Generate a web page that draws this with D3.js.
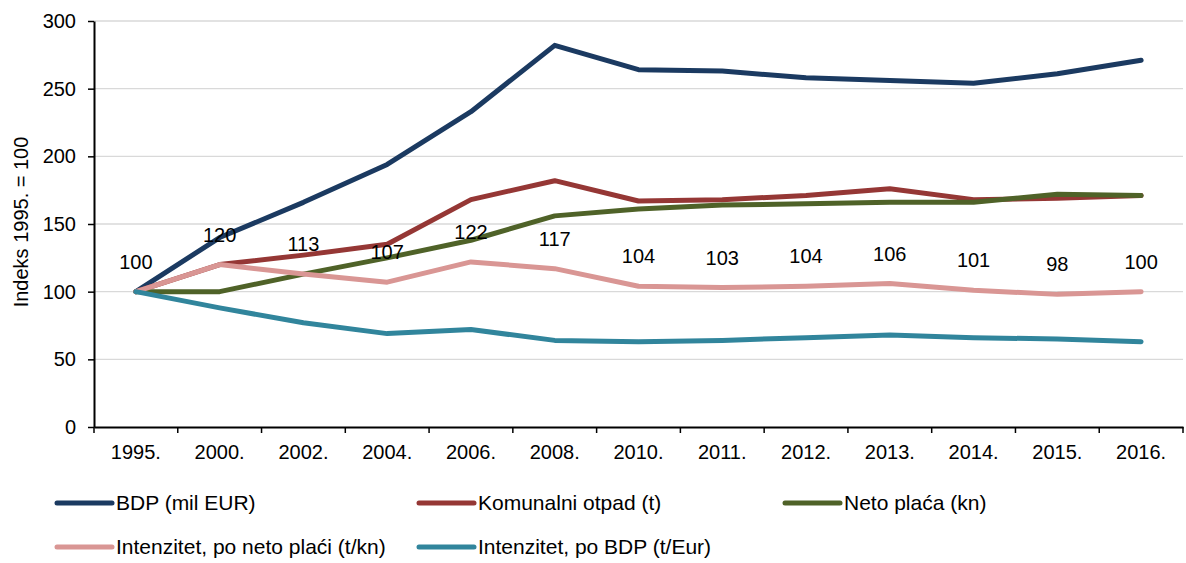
<!DOCTYPE html>
<html><head><meta charset="utf-8">
<script src="https://cdn.jsdelivr.net/npm/d3@7"></script>
<style>body{margin:0;background:#fff;} svg{display:block;font-family:"Liberation Sans",Arial,sans-serif;}</style>
</head><body>
<svg id="chart" width="1186" height="563"></svg>
<script>
const categories = ["1995.","2000.","2002.","2004.","2006.","2008.","2010.","2011.","2012.","2013.","2014.","2015.","2016."];
const bdp        = [100,140,166,194,233,282,264,263,258,256,254,261,271];
const otpad      = [100,120,127,135,168,182,167,168,171,176,168,169,171];
const netoPlaca  = [100,100,113,125,138,156,161,164,165,166,166,172,171];
const intPlaca   = [100,120,113,107,122,117,104,103,104,106,101,98,100];
const intBdp     = [100,88,77,69,72,64,63,64,66,68,66,65,63];
const yTicks     = [0,50,100,150,200,250,300];
const seriesNames = ["BDP (mil EUR)","Komunalni otpad (t)","Neto plaća (kn)","Intenzitet, po neto plaći (t/kn)","Intenzitet, po BDP (t/Eur)"];
const colors = ["#1B3A61","#953735","#4F6228","#D99694","#31859C"];
const seriesValues = [bdp, otpad, netoPlaca, intPlaca, intBdp];

const FONT = "Liberation Sans, Arial, sans-serif";
const svg = d3.select("#chart");
const x = d3.scaleBand().domain(categories).range([94,1183]);
const y = d3.scaleLinear().domain([0,300]).range([427,21]);

// gridlines
svg.append("g").selectAll("line").data(yTicks.filter(d=>d>0)).join("line")
  .attr("x1",94).attr("x2",1183).attr("y1",d=>y(d)).attr("y2",d=>y(d))
  .attr("stroke","#d9d9d9").attr("stroke-width",1.3);

// y axis
const yAxis = svg.append("g").attr("transform","translate(94,0)")
  .call(d3.axisLeft(y).tickValues(yTicks).tickSize(6).tickSizeOuter(0));
yAxis.select(".domain").attr("stroke","#000").attr("stroke-width",2);
yAxis.selectAll(".tick line").attr("stroke","#000").attr("stroke-width",1.5);
yAxis.selectAll(".tick text").attr("font-size",20).attr("fill","#000").attr("x",-18)
  .attr("font-family",FONT);

// x axis
const xAxis = svg.append("g").attr("transform","translate(0,427)")
  .call(d3.axisBottom(x).tickSize(0).tickSizeOuter(0));
xAxis.select(".domain").attr("stroke","#000").attr("stroke-width",2);
xAxis.selectAll(".tick text").attr("font-size",20).attr("fill","#000")
  .attr("y",32).attr("dy",0).attr("font-family",FONT);
// boundary ticks
const bounds = categories.map(c=>x(c)).concat([x.range()[1]]);
svg.append("g").selectAll("line").data(bounds).join("line")
  .attr("x1",d=>d).attr("x2",d=>d).attr("y1",427).attr("y2",433)
  .attr("stroke","#000").attr("stroke-width",1.5);

// y title
svg.append("text").attr("transform","translate(28,222) rotate(-90)")
  .attr("text-anchor","middle").attr("font-size",20).attr("fill","#000")
  .text("Indeks 1995. = 100");

// lines
const line = d3.line().x((d,i)=>x(categories[i])+x.bandwidth()/2).y(d=>y(d));
seriesValues.forEach((vals,k)=>{
  svg.append("path").datum(vals).attr("d",line).attr("fill","none")
    .attr("stroke",colors[k]).attr("stroke-width",5)
    .attr("stroke-linejoin","round").attr("stroke-linecap","round");
});

// labels for intenzitet po neto plaći
svg.append("g").selectAll("text").data(intPlaca).join("text")
  .attr("x",(d,i)=>x(categories[i])+x.bandwidth()/2)
  .attr("y",d=>y(d)-23)
  .attr("text-anchor","middle").attr("font-size",20).attr("fill","#000")
  .text(d=>d);

// legend
const legendPos = [[57,503],[419,503],[785,503],[57,547],[419,547]];
seriesNames.forEach((n,k)=>{
  const [lx,ly] = legendPos[k];
  svg.append("line").attr("x1",lx).attr("x2",lx+55).attr("y1",ly).attr("y2",ly)
    .attr("stroke",colors[k]).attr("stroke-width",5).attr("stroke-linecap","round");
  svg.append("text").attr("x",lx+59).attr("y",ly+7).attr("font-size",21).attr("fill","#000").text(n);
});
</script>
</body></html>
